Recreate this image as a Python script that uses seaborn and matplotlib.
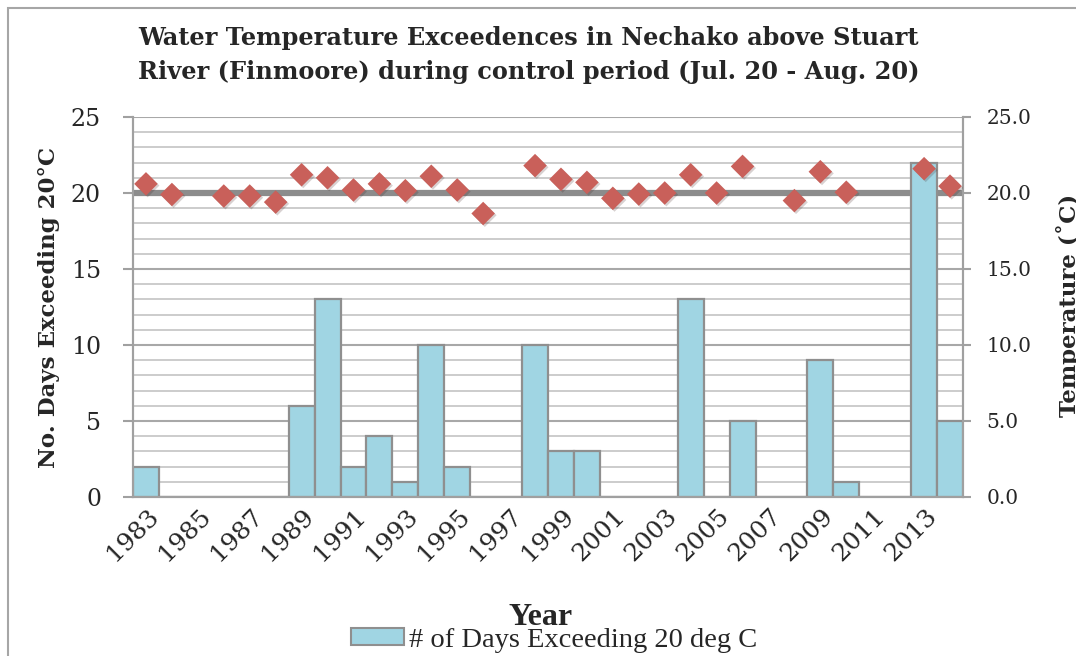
import numpy as np
import pandas as pd
import matplotlib
matplotlib.use('Agg')
import matplotlib.pyplot as plt
import matplotlib.transforms as mtransforms
import seaborn as sns
from matplotlib.patches import Patch, Rectangle
from matplotlib.ticker import MultipleLocator, FormatStrFormatter
from matplotlib import patheffects

nan = np.nan

# Data (control period Jul. 20 - Aug. 20)
years = list(range(1983, 2015))
days_over_20 = [2, 0, 0, 0, 0, 0, 6, 13, 2, 4, 1, 10, 2, 0, 0, 10,
                3, 3, 0, 0, 0, 13, 0, 5, 0, 0, 9, 1, 0, 0, 22, 5]
mean_temp = [20.6, 19.9, nan, 19.8, 19.8, 19.4, 21.2, 21.0, 20.2, 20.6, 20.15,
             21.1, 20.2, 18.65, nan, 21.8, 20.9, 20.7, 19.65, 19.93, 20.0, 21.2,
             20.0, 21.75, nan, 19.5, 21.4, 20.05, nan, nan, 21.6, 20.45]
threshold = 20

df = pd.DataFrame({'year': [str(y) for y in years],
                   'days': days_over_20,
                   'temp': mean_temp})

sns.set_theme(style='white')
plt.rcParams['font.family'] = ['DejaVu Serif', 'DejaVu Sans']

bar_col = '#A0D5E3'
edge_col = '#8F8F8F'
dot_col = '#C9605A'
axis_col = '#A0A0A0'

fig = plt.figure(figsize=(10.76, 6.56), dpi=100)
ax = fig.add_axes([133 / 1076, 1 - 497 / 656, 830 / 1076, 380 / 656])

sns.barplot(data=df, x='year', y='days', ax=ax, color=bar_col, width=1.0,
            edgecolor=edge_col, linewidth=1.6, saturation=1, zorder=3)
ax.axhline(threshold, color='#8C8C8C', lw=4.5, zorder=2)

ax.set_ylim(0, 25)
ax.yaxis.set_major_locator(MultipleLocator(5))
ax.yaxis.set_minor_locator(MultipleLocator(1))
ax.grid(which='major', axis='y', color='#A8A8A8', lw=1.5, zorder=0)
ax.grid(which='minor', axis='y', color='#C8C8C8', lw=1.3, zorder=0)
ax.xaxis.grid(False)
ax.set_axisbelow(True)

ax2 = ax.twinx()
sns.stripplot(data=df, x='year', y='temp', ax=ax2, order=df['year'],
              marker='D', size=12, color=dot_col, jitter=False,
              linewidth=0, zorder=5)
for coll in ax2.collections:
    coll.set_path_effects([patheffects.SimplePatchShadow(offset=(1.2, -1.2), alpha=0.2),
                           patheffects.Normal()])
ax2.set_ylim(0, 25)
ax2.yaxis.set_major_locator(MultipleLocator(5))
ax2.yaxis.set_major_formatter(FormatStrFormatter('%.1f'))
ax.set_xlim(-0.5, len(years) - 0.5)

ax.set_xticks(range(0, len(years), 2))
ax.set_xticklabels([str(y) for y in years[::2]], rotation=45, ha='right',
                   va='center', rotation_mode='anchor', fontsize=18)
ax.tick_params(axis='x', length=0, pad=11)
ax.tick_params(axis='y', which='major', direction='out', length=7, width=1.5,
               color=axis_col, labelsize=17, pad=16)
ax.tick_params(axis='y', which='minor', length=0)
ax2.tick_params(axis='y', which='major', direction='out', length=6, width=1.5,
                color=axis_col, labelsize=14.5, pad=11)
# nudge the rotated year labels right (after tick_params, which resets transforms)
shift = mtransforms.ScaledTranslation(9 / 100, 0, fig.dpi_scale_trans)
for lab in ax.get_xticklabels():
    lab.set_transform(lab.get_transform() + shift)
ax.set_xlabel('')
ax2.set_xlabel('')
ax2.set_ylabel('')

for a in (ax, ax2):
    a.spines['top'].set_visible(False)
    for s in ('left', 'right', 'bottom'):
        a.spines[s].set_color(axis_col)
        a.spines[s].set_linewidth(1.5)

ax.set_ylabel('No. Days Exceeding 20°C', fontsize=16.5, fontweight='bold')
ax.yaxis.set_label_coords(-0.088, 0.5)
fig.text(0.993, 0.535, 'Temperature (˚C)', rotation=90, ha='center', va='center',
         fontsize=16.5, fontweight='bold')

fig.text(0.491, 0.916,
         'Water Temperature Exceedences in Nechako above Stuart\n'
         'River (Finmoore) during control period (Jul. 20 - Aug. 20)',
         ha='center', va='center', fontsize=17.3, fontweight='bold', linespacing=1.5)

fig.text(0.502, 0.058, 'Year', ha='center', va='center', fontsize=23,
         fontweight='bold', family='Liberation Serif')
fig.legend(handles=[Patch(facecolor=bar_col, edgecolor=edge_col, lw=1.5)],
           labels=['# of Days Exceeding 20 deg C'], loc='center',
           bbox_to_anchor=(0.515, 0.024), frameon=False,
           prop={'family': 'Liberation Serif', 'size': 20.5},
           handlelength=1.86, handleheight=0.53, handletextpad=0.15)

fig.add_artist(Rectangle((8 / 1076, -0.01), 1.5, 1 - 8 / 656 + 0.01,
                         transform=fig.transFigure, fill=False,
                         edgecolor='#A6A6A6', lw=1.5))

fig.savefig('out.png', dpi=100)
